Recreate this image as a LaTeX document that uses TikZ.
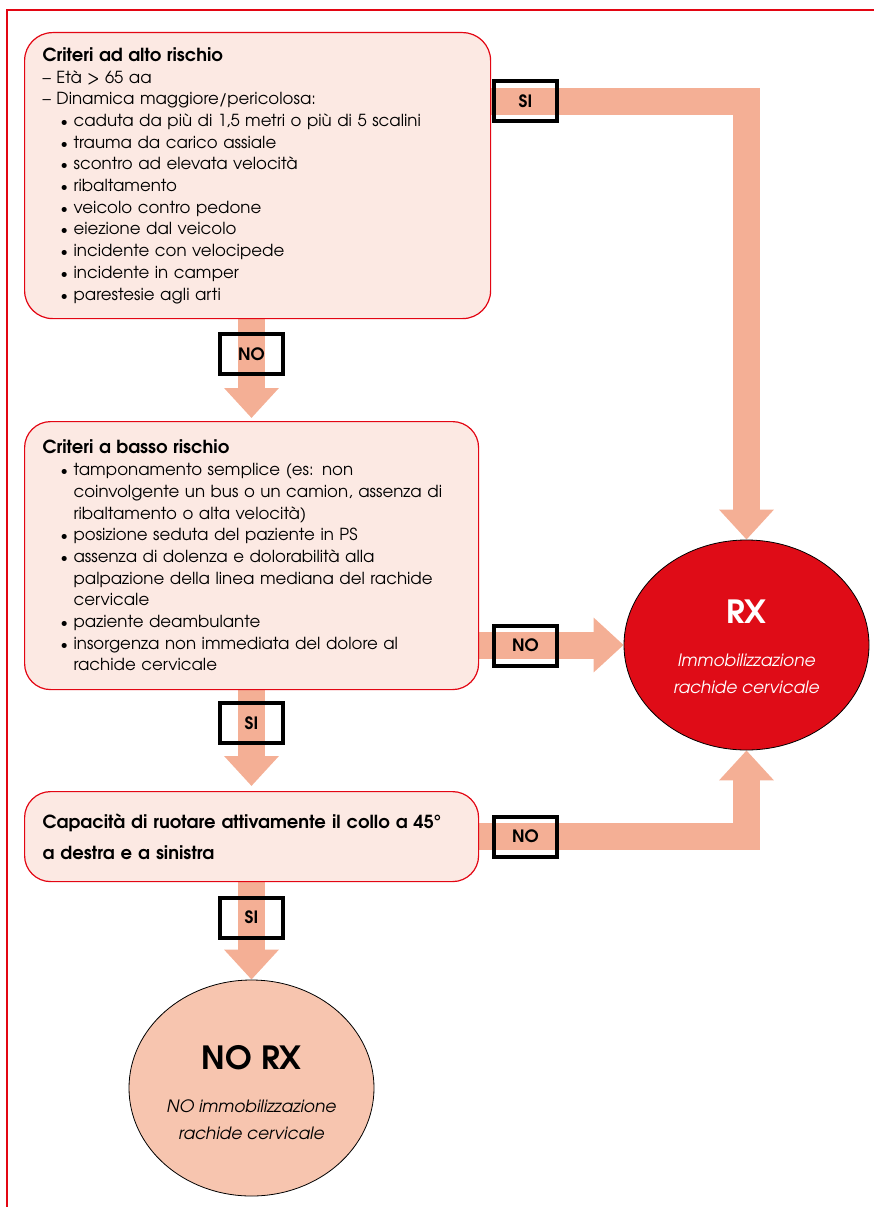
\documentclass[tikz,border=0pt]{standalone}
\usepackage{fontspec}
\setmainfont{TeX Gyre Adventor}
\usetikzlibrary{shapes.geometric,arrows.meta,calc}
\definecolor{framered}{HTML}{E30613}
\definecolor{boxfill}{HTML}{FCE9E3}
\definecolor{bandc}{HTML}{F4AF95}
\definecolor{rxred}{HTML}{DF0C17}
\definecolor{norxfill}{HTML}{F7C5AF}
\pgfdeclarelayer{bg}\pgfsetlayers{bg,main}
\newcommand\bul{\hspace*{18pt}\makebox[13pt][l]{\scalebox{0.85}{•}}}
\newcommand\cont{\hspace*{31pt}}
\begin{document}
\begin{tikzpicture}[x=1pt,y=-1pt,
  critbox/.style={draw=framered, line width=1.2pt, fill=boxfill, rounded corners=28pt,
    inner xsep=18pt, inner ysep=0pt, align=left, anchor=north west,
    font=\fontsize{16.6}{21.7}\selectfont},
  lbl/.style={draw=black, line width=4pt, minimum width=63pt, minimum height=40pt,
    inner sep=0pt, font=\fontsize{17}{17}\selectfont\bfseries},
  bandarrow/.style={draw=bandc, line width=27pt, line join=miter,
    -{Triangle[length=30pt,width=53pt]}},
  outcome/.style={ellipse, draw=black, line width=0.8pt, inner sep=0pt, minimum width=245pt},
  bigtxt/.style={font=\fontsize{32}{32}\selectfont\bfseries},
  subtxt/.style={font=\fontsize{17}{27}\selectfont\itshape, align=center}
]
\useasboundingbox (0,0) rectangle (874,1207);
\draw[framered, line width=1.2pt] (7,1207) -- (7,10) -- (874,10);

\node[critbox, text width=430pt, minimum height=286pt] (box1) at (24,32)
{{\fontsize{18}{21.7}\selectfont\bfseries Criteri ad alto rischio}\\
– Età > 65 aa\\
– Dinamica maggiore/pericolosa:\\
\bul caduta da più di 1,5 metri o più di 5 scalini\\
\bul trauma da carico assiale\\
\bul scontro ad elevata velocità\\
\bul ribaltamento\\
\bul veicolo contro pedone\\
\bul eiezione dal veicolo\\
\bul incidente con velocipede\\
\bul incidente in camper\\
\bul parestesie agli arti};

\node[critbox, text width=418pt, minimum height=268pt, rounded corners=26pt] (box2) at (24,421)
{{\fontsize{18}{21.7}\selectfont\bfseries Criteri a basso rischio}\\
\bul tamponamento semplice (es: non\\
\cont coinvolgente un bus o un camion, assenza di\\
\cont ribaltamento o alta velocità)\\
\bul posizione seduta del paziente in PS\\
\bul assenza di dolenza e dolorabilità alla\\
\cont palpazione della linea mediana del rachide\\
\cont cervicale\\
\bul paziente deambulante\\
\bul insorgenza non immediata del dolore al\\
\cont rachide cervicale};

\node[critbox, text width=418pt, minimum height=90pt, rounded corners=26pt,
  font=\fontsize{18}{31}\selectfont\bfseries] (box3) at (24,791)
{Capacità di ruotare attivamente il collo a 45°\\
a destra e a sinistra};

\node[outcome, fill=rxred, minimum height=210pt] (rx) at (746.5,645) {};
\node[bigtxt, text=white] (rxT) at (746.5,612) {RX};
\node[subtxt, text=white] (rxS) at (746.5,673.5) {Immobilizzazione\\rachide cervicale};

\node[outcome, fill=norxfill, minimum height=216pt] (norx) at (251.5,1088) {};
\node[bigtxt] (norxT) at (251.5,1058) {NO RX};
\node[subtxt] (norxS) at (251.5,1120) {NO immobilizzazione\\rachide cervicale};

\node[lbl] (si1) at (525.5,101) {SI};
\node[lbl] (no1) at (251.5,354) {NO};
\node[lbl] (no2) at (525.5,645.5) {NO};
\node[lbl] (si2) at (251.5,723) {SI};
\node[lbl] (no3) at (525.5,836.5) {NO};
\node[lbl] (si3) at (251.5,917.5) {SI};

\begin{pgfonlayer}{bg}
\draw[bandarrow] (box1.east |- si1) -| (rx.north);
\draw[bandarrow, shorten >=3pt] (no1 |- box1.south) -- (no1 |- box2.north);
\draw[bandarrow] (box2.east |- rx.west) -- (rx.west);
\draw[bandarrow, shorten >=5pt] (si2 |- box2.south) -- (si2 |- box3.north);
\draw[bandarrow] (box3.east |- no3) -| (rx.south);
\draw[bandarrow] (si3 |- box3.south) -- (norx.north);
\end{pgfonlayer}
\end{tikzpicture}
\end{document}
